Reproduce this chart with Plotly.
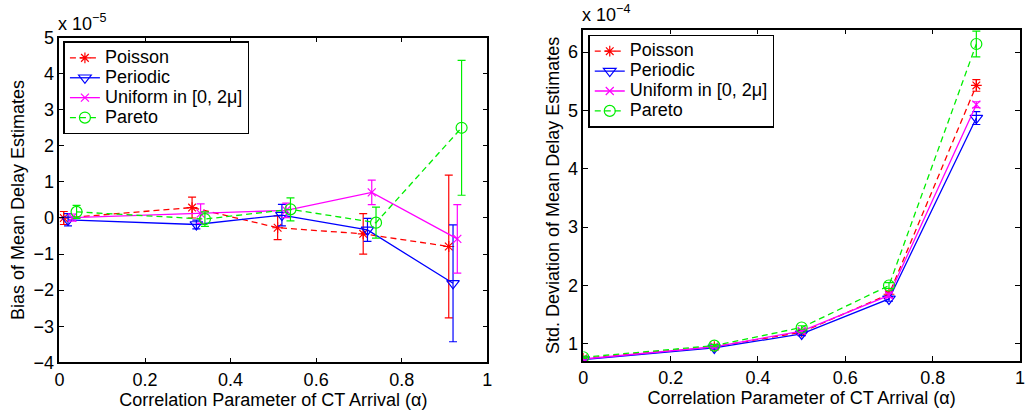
import plotly.graph_objects as go

# Correlation parameter of the cross-traffic arrival process
alpha = [0.0, 0.3, 0.5, 0.7, 0.9]

series_names = ["Poisson", "Periodic", "Uniform in [0, 2\u03bc]", "Pareto"]

# Bias of mean delay estimates (units of 1e-5) and their error half-widths
bias_poisson = [0.0, 0.29, -0.27, -0.44, -0.79]
bias_poisson_err = [0.18, 0.29, 0.33, 0.56, 1.98]
bias_periodic = [-0.05, -0.18, 0.08, -0.33, -1.81]
bias_periodic_err = [0.17, 0.12, 0.3, 0.32, 1.62]
bias_uniform = [0.01, 0.12, 0.21, 0.71, -0.58]
bias_uniform_err = [0.1, 0.27, 0.2, 0.34, 0.95]
bias_pareto = [0.17, -0.03, 0.24, -0.13, 2.5]
bias_pareto_err = [0.18, 0.2, 0.32, 0.43, 1.87]

# Std. deviation of mean delay estimates (units of 1e-4) and error half-widths
std_poisson = [0.75, 0.95, 1.2, 1.85, 5.43]
std_poisson_err = [0.02, 0.02, 0.03, 0.04, 0.1]
std_periodic = [0.73, 0.93, 1.17, 1.77, 4.87]
std_periodic_err = [0.02, 0.02, 0.03, 0.04, 0.11]
std_uniform = [0.74, 0.95, 1.22, 1.83, 5.1]
std_uniform_err = [0.02, 0.02, 0.03, 0.04, 0.05]
std_pareto = [0.77, 0.97, 1.28, 2.0, 6.14]
std_pareto_err = [0.02, 0.02, 0.03, 0.05, 0.22]

bias_vals = [bias_poisson, bias_periodic, bias_uniform, bias_pareto]
bias_errs = [bias_poisson_err, bias_periodic_err, bias_uniform_err, bias_pareto_err]
std_vals = [std_poisson, std_periodic, std_uniform, std_pareto]
std_errs = [std_poisson_err, std_periodic_err, std_uniform_err, std_pareto_err]

colors = ["#ff0000", "#0000ff", "#ff00ff", "#00ee00"]
symbols = ["asterisk-open", "triangle-down-open", "x-thin-open", "circle-open"]
marker_sizes = [9, 11, 8, 11]
dashes = ["6px,4px", "solid", "solid", "6px,4px"]
# small horizontal shift per series so the error bars do not overlap (left panel)
shift_step = 0.01

FONT = "Liberation Sans, Arial, Helvetica, sans-serif"
FS = 18          # axis, tick and legend text size
LEGEND_ROW = 13  # base legend font; sets the compact row spacing
W, H = 1026, 418


def legend_label(text):
    return f'<span style="font-size:{FS}px">{text}</span>'


fig = go.Figure()

for i, name in enumerate(series_names):
    xs = [a + shift_step * (i + 1) for a in alpha]
    fig.add_trace(go.Scatter(
        x=xs, y=bias_vals[i], name=legend_label(name), mode="lines+markers",
        line=dict(color=colors[i], width=1.3, dash=dashes[i]),
        marker=dict(symbol=symbols[i], size=marker_sizes[i], color=colors[i],
                    line=dict(color=colors[i], width=1.2)),
        error_y=dict(type="data", array=bias_errs[i], visible=True,
                     color=colors[i], thickness=1.2, width=4),
        xaxis="x", yaxis="y", legend="legend",
    ))

for i, name in enumerate(series_names):
    fig.add_trace(go.Scatter(
        x=alpha, y=std_vals[i], name=legend_label(name), mode="lines+markers",
        line=dict(color=colors[i], width=1.3, dash=dashes[i]),
        marker=dict(symbol=symbols[i], size=marker_sizes[i], color=colors[i],
                    line=dict(color=colors[i], width=1.2)),
        error_y=dict(type="data", array=std_errs[i], visible=True,
                     color=colors[i], thickness=1.2, width=4),
        xaxis="x2", yaxis="y2", legend="legend2",
    ))


def px_x(p):
    return p / W


def px_y(p):
    return 1 - p / H


axis_common = dict(
    showline=True, linecolor="black", linewidth=1.5, mirror="ticks",
    ticks="inside", ticklen=5, tickwidth=1, tickcolor="black",
    showgrid=False, zeroline=False,
    tickfont=dict(family=FONT, size=FS, color="black"),
)

legend_common = dict(
    font=dict(family=FONT, size=LEGEND_ROW, color="black"),
    bgcolor="white", bordercolor="black", borderwidth=1.5,
    xanchor="left", yanchor="top", tracegroupgap=0,
    itemwidth=30,
)

fig.update_layout(
    width=W, height=H,
    margin=dict(l=0, r=0, t=0, b=0),
    paper_bgcolor="white", plot_bgcolor="white",
    font=dict(family=FONT, size=FS, color="black"),
    xaxis=dict(**axis_common, domain=[px_x(55), px_x(487)], range=[0, 1],
               dtick=0.2, tick0=0, anchor="y",
               title=dict(text="Correlation Parameter of CT Arrival (\u03b1)",
                          font=dict(family=FONT, size=FS), standoff=0)),
    yaxis=dict(**axis_common, domain=[px_y(370), px_y(29)], range=[-4, 5],
               dtick=1, tick0=0, anchor="x",
               title=dict(text="Bias of Mean Delay Estimates",
                          font=dict(family=FONT, size=FS), standoff=4)),
    xaxis2=dict(**axis_common, domain=[px_x(584), px_x(1025)], range=[0, 1],
                dtick=0.2, tick0=0, anchor="y2",
                title=dict(text="Correlation Parameter of CT Arrival (\u03b1)",
                           font=dict(family=FONT, size=FS), standoff=0)),
    yaxis2=dict(**axis_common, domain=[px_y(368.7), px_y(20.7)],
                range=[0.705, 6.385], dtick=1, tick0=0, anchor="x2",
                title=dict(text="Std. Deviation of Mean Delay Estimates",
                           font=dict(family=FONT, size=FS), standoff=4)),
    legend=dict(**legend_common, x=px_x(59), y=px_y(33)),
    legend2=dict(**legend_common, x=px_x(589), y=px_y(26)),
    annotations=[
        dict(text="x 10<sup>\u22125</sup>", xref="paper", yref="paper",
             x=px_x(52), y=px_y(27), xanchor="left", yanchor="bottom",
             showarrow=False, font=dict(family=FONT, size=FS, color="black")),
        dict(text="x 10<sup>\u22124</sup>", xref="paper", yref="paper",
             x=px_x(581), y=px_y(18), xanchor="left", yanchor="bottom",
             showarrow=False, font=dict(family=FONT, size=FS, color="black")),
    ],
)

fig.write_html("out.html")
